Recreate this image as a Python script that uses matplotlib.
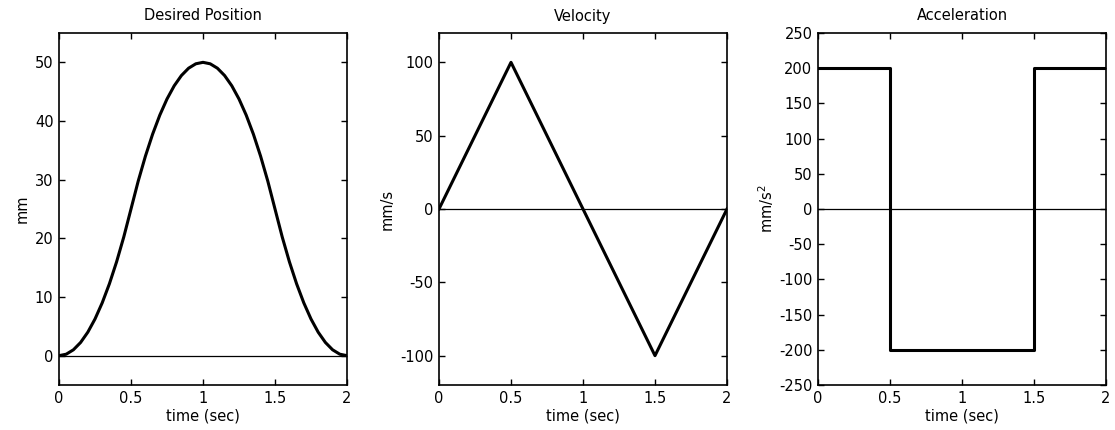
import numpy as np
import matplotlib
matplotlib.use("Agg")
import matplotlib.pyplot as plt

plt.rcParams['font.family'] = ['DejaVu Sans']
plt.rcParams['font.size'] = 10.5
plt.rcParams['axes.unicode_minus'] = False

# sampled motion profile (2 s move, 50 mm)
t_pos = np.arange(0, 2.0001, 0.05)
pos = [0, 0.25, 1, 2.25, 4, 6.25, 9, 12.25, 16, 20.25, 25,
       29.75, 34, 37.75, 41, 43.75, 46, 47.75, 49, 49.75, 50,
       49.75, 49, 47.75, 46, 43.75, 41, 37.75, 34, 29.75, 25,
       20.25, 16, 12.25, 9, 6.25, 4, 2.25, 1, 0.25, 0]

t_vel = [0, 0.5, 1.5, 2]
vel = [0, 100, -100, 0]

t_acc = [0, 0.5, 1.5, 2]
acc = [200, -200, 200, 200]

fig = plt.figure(figsize=(11.15, 4.3), dpi=100)

lefts = [59/1115., 439/1115., 818/1115.]
w = 288/1115.
b = 45/430.
h = 352/430.

axes = [fig.add_axes([l, b, w, h]) for l in lefts]

ax = axes[0]
ax.plot(t_pos, pos, color='k', lw=2.2)
ax.set_ylim(-5, 55)
ax.set_yticks(np.arange(0, 51, 10))
ax.set_title("Desired Position", fontsize=10.5, pad=9)
ax.set_ylabel("mm")

ax = axes[1]
ax.plot(t_vel, vel, color='k', lw=2.2)
ax.set_ylim(-120, 120)
ax.set_yticks([-100, -50, 0, 50, 100])
ax.set_title("Velocity", fontsize=10.5, pad=9)
ax.set_ylabel("mm/s")

ax = axes[2]
ax.step(t_acc, acc, where='post', color='k', lw=2.2)
ax.set_ylim(-250, 250)
ax.set_yticks(np.arange(-250, 251, 50))
ax.set_title("Acceleration", fontsize=10.5, pad=9)
ax.set_ylabel("mm/s$^2$", labelpad=2)

for ax in axes:
    ax.axhline(0, color='k', lw=0.9, zorder=1)
    ax.set_xlim(0, 2)
    ax.set_xticks([0, 0.5, 1, 1.5, 2])
    ax.set_xticklabels(["0", "0.5", "1", "1.5", "2"])
    ax.set_xlabel("time (sec)", labelpad=2)
    ax.tick_params(direction='in', top=True, right=True, length=4, width=1, pad=4)
    for s in ax.spines.values():
        s.set_linewidth(1.2)

fig.savefig("out.png", dpi=100)
